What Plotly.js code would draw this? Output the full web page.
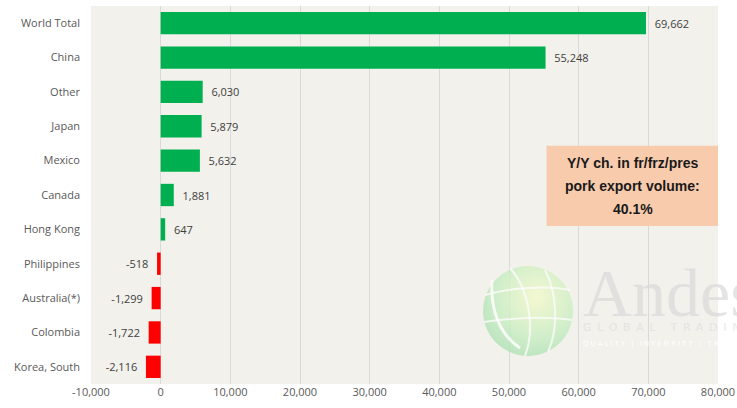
<!DOCTYPE html>
<html><head><meta charset="utf-8">
<script src="https://cdn.plot.ly/plotly-3.0.1.min.js"></script>
<style>html,body{margin:0;padding:0;background:#fff}#c{width:737px;height:408px}</style>
</head><body><div id="c"></div>
<script>
const categories = ["World Total","China","Other","Japan","Mexico","Canada","Hong Kong","Philippines","Australia(*)","Colombia","Korea, South"];
const values = [69662,55248,6030,5879,5632,1881,647,-518,-1299,-1722,-2116];
const tickVals = [-10000,0,10000,20000,30000,40000,50000,60000,70000,80000];
const tickLabels = ["-10,000","0","10,000","20,000","30,000","40,000","50,000","60,000","70,000","80,000"];
const boxLines = ["Y/Y ch. in fr/frz/pres", "pork export volume:", "40.1%"];

const colors = values.map(v => v >= 0 ? "#00B050" : "#FF0000");
const labels = values.map(v => v >= 0 ? "\u00a0\u00a0" + v.toLocaleString("en-US") : v.toLocaleString("en-US") + "\u00a0\u00a0");

const trace = {
  type: "bar", orientation: "h",
  y: categories, x: values,
  marker: {color: colors},
  text: labels, textposition: "outside", cliponaxis: false,
  textfont: {family: "Open Sans, sans-serif", size: 11, color: "#404040"},
  hoverinfo: "none"
};

// watermark logo (image)
const logoSvg = `<svg xmlns="http://www.w3.org/2000/svg" width="267" height="110" viewBox="0 0 267 110">
<defs><radialGradient id="g" cx="0.6" cy="0.35" r="0.7">
<stop offset="0" stop-color="#f4fbc8"/><stop offset="0.6" stop-color="#c8eec0"/><stop offset="1" stop-color="#a8e0b0"/></radialGradient></defs>
<g opacity="0.75">
<circle cx="58" cy="51" r="45" fill="url(#g)"/>
<path d="M40 8 C 60 30, 65 70, 55 96" stroke="#ffffff" stroke-width="2" fill="none" opacity="0.8"/>
<path d="M75 10 C 88 35, 88 70, 78 92" stroke="#ffffff" stroke-width="2" fill="none" opacity="0.8"/>
<path d="M15 35 C 40 28, 75 25, 100 30" stroke="#ffffff" stroke-width="2" fill="none" opacity="0.8"/>
<path d="M14 62 C 40 58, 75 56, 102 60" stroke="#ffffff" stroke-width="2" fill="none" opacity="0.8"/>
<path d="M22 20 C 20 50, 30 75, 50 88" stroke="#ffffff" stroke-width="3" fill="none" opacity="0.9"/>
</g>
<text x="113" y="56" font-family="Liberation Serif, serif" font-size="68" fill="#dadada" opacity="0.7">Andes</text>
<text x="113" y="71" font-family="DejaVu Sans, sans-serif" font-size="11" letter-spacing="5.7" fill="#dcdcdc" opacity="0.6">GLOBAL TRADING</text>
<text x="113" y="86" font-family="DejaVu Sans, sans-serif" font-size="7" letter-spacing="2" fill="#ffffff">QUALITY | INTEGRITY | TRUST</text>
</svg>`;
const logoUri = "data:image/svg+xml;charset=utf-8," + encodeURIComponent(logoSvg);

const boxY = [0.585, 0.524, 0.463];
const annotations = boxLines.map((t, i) => ({
  xref: "paper", yref: "paper", x: 0.864, y: boxY[i], xanchor: "center", yanchor: "middle",
  text: "<b>" + t + "</b>", showarrow: false,
  font: {family: "Liberation Sans, Arial, sans-serif", size: 14, color: "#1a1a1a"}
}));

const layout = {
  width: 737, height: 408,
  margin: {l: 91, r: 19, t: 6, b: 24},
  paper_bgcolor: "#ffffff", plot_bgcolor: "#F2F1EC",
  bargap: 0.35,
  showlegend: false,
  xaxis: {range: [-10000, 80000], tickvals: tickVals, ticktext: tickLabels,
    showgrid: true, gridcolor: "#D9D9D9", gridwidth: 1, zeroline: true, zerolinecolor: "#D9D9D9", zerolinewidth: 1,
    tickfont: {family: "Open Sans, sans-serif", size: 11, color: "#595959"}, ticks: "", fixedrange: true},
  yaxis: {autorange: "reversed", tickfont: {family: "Open Sans, sans-serif", size: 11, color: "#595959"},
    ticks: "", ticklen: 0, ticklabelstandoff: 10, showgrid: false, zeroline: false, fixedrange: true},
  shapes: [
    {type: "rect", xref: "paper", yref: "paper", x0: 0.7265, x1: 1.0, y0: 0.418, y1: 0.63,
     fillcolor: "#F8CBAD", line: {width: 0}, layer: "above"}
  ],
  images: [
    {source: logoUri, xref: "paper", yref: "paper", x: 0.6045, y: 0.328, sizex: 0.4258, sizey: 0.291,
     sizing: "stretch", xanchor: "left", yanchor: "top", layer: "above"}
  ],
  annotations: annotations
};
Plotly.newPlot("c", [trace], layout, {displayModeBar: false, staticPlot: true});
</script></body></html>
